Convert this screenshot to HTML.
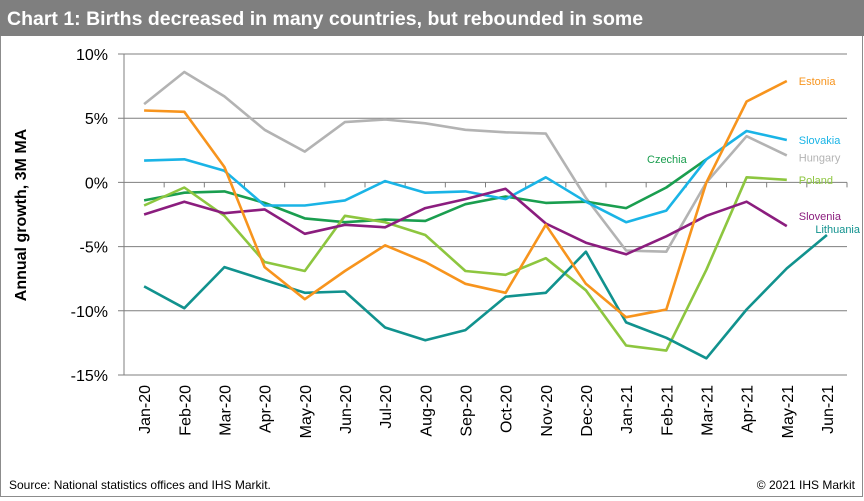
<!DOCTYPE html>
<html><head><meta charset="utf-8"><style>
body{margin:0;background:#fff;font-family:"Liberation Sans",Arial,sans-serif}
#wrap{position:relative;width:864px;height:501px;overflow:hidden}
</style></head><body>
<div id="wrap">
<svg id="svg" width="864" height="501" xmlns="http://www.w3.org/2000/svg" font-family="Liberation Sans, Arial, sans-serif">
<rect x="0.5" y="0.5" width="862" height="496" fill="#fff" stroke="#8c8c8c"/>
<rect x="0" y="0" width="864" height="36" fill="#7f7f7f"/>
<text x="7" y="25" font-size="19.5" font-weight="bold" fill="#fff">Chart 1: Births decreased in many countries, but rebounded in some</text>
<text transform="translate(26,215) rotate(-90)" text-anchor="middle" font-size="16" font-weight="bold" fill="#000">Annual growth, 3M MA</text>
<text x="9" y="489" font-size="12" fill="#000">Source: National statistics offices and IHS Markit.</text>
<text x="855" y="489" font-size="12" fill="#000" text-anchor="end">© 2021 IHS Markit</text>
<g id="grid"></g><g id="series"></g><g id="labels"></g>
</svg>
</div>
<script>
const categories=["Jan-20","Feb-20","Mar-20","Apr-20","May-20","Jun-20","Jul-20","Aug-20","Sep-20","Oct-20","Nov-20","Dec-20","Jan-21","Feb-21","Mar-21","Apr-21","May-21","Jun-21"];
const yTicks=[10,5,0,-5,-10,-15];
const yTickLabels=["10%","5%","0%","-5%","-10%","-15%"];
const estonia=[5.6,5.5,1.2,-6.6,-9.1,-6.9,-4.9,-6.2,-7.9,-8.6,-3.3,-7.9,-10.5,-9.9,0,6.3,7.9];
const hungary=[6.1,8.6,6.7,4.1,2.4,4.7,4.9,4.6,4.1,3.9,3.8,-1.2,-5.3,-5.4,0,3.6,2.1];
const slovakia=[1.7,1.8,0.9,-1.8,-1.8,-1.4,0.1,-0.8,-0.7,-1.3,0.4,-1.5,-3.1,-2.2,1.8,4.0,3.3];
const czechia=[-1.4,-0.8,-0.7,-1.6,-2.8,-3.1,-2.9,-3.0,-1.7,-1.1,-1.6,-1.5,-2.0,-0.4,1.8];
const poland=[-1.8,-0.4,-2.6,-6.2,-6.9,-2.6,-3.1,-4.1,-6.9,-7.2,-5.9,-8.4,-12.7,-13.1,-6.8,0.4,0.2];
const slovenia=[-2.5,-1.5,-2.4,-2.1,-4.0,-3.3,-3.5,-2.0,-1.3,-0.5,-3.2,-4.7,-5.6,-4.2,-2.6,-1.5,-3.4];
const lithuania=[-8.1,-9.8,-6.6,-7.6,-8.6,-8.5,-11.3,-12.3,-11.5,-8.9,-8.6,-5.4,-10.9,-12.1,-13.7,-9.9,-6.7,-4.1];
const NS="http://www.w3.org/2000/svg";
const L=124,R=847,T=54,B=375;
function xs(i){return L+(R-L)/categories.length*(i+0.5);}
function ys(v){return T+(10-v)/25*(B-T);}
function mk(tag,attrs,parent){const e=document.createElementNS(NS,tag);for(const k in attrs)e.setAttribute(k,attrs[k]);parent.appendChild(e);return e;}
const grid=document.getElementById('grid');
yTicks.forEach((v,i)=>{
 const ln=mk('line',{x1:L-6,x2:R,y1:ys(v),y2:ys(v),stroke:'#7f7f7f','stroke-width':1},grid);
 
 
 const t=mk('text',{x:L-16,y:ys(v)+6,'text-anchor':'end','font-size':16,fill:'#000'},grid);
 t.textContent=yTickLabels[i];
 
 
});
const ax=mk('line',{x1:L,x2:L,y1:T,y2:B,stroke:'#7f7f7f'},grid);


for(let i=0;i<=categories.length;i++){
 const x=L+(R-L)/categories.length*i;
 const tk=mk('line',{x1:x,x2:x,y1:ys(0),y2:ys(0)+5,stroke:'#7f7f7f'},grid);
 
 
}
categories.forEach((c,i)=>{
 const t=mk('text',{transform:`translate(${xs(i)+6},385) rotate(-90)`,'text-anchor':'end','font-size':16,fill:'#000'},grid);
 t.textContent=c;
 
 
});
const series=[
 ["hungary",hungary,"#b3b3b3","Hungary",0,2],
 ["czechia",czechia,"#1a9e4f","Czechia",0,0],
 ["slovakia",slovakia,"#1ab4e6","Slovakia",0,0],
 ["poland",poland,"#8dc63f","Poland",0,0],
 ["slovenia",slovenia,"#8b1d7e","Slovenia",0,-10],
 ["lithuania",lithuania,"#11928e","Lithuania",0,0],
 ["estonia",estonia,"#f7941d","Estonia",0,0]
];
const sg=document.getElementById('series'),lg=document.getElementById('labels');
series.forEach(s=>{
 const d=s[1].map((v,i)=>(i?'L':'M')+xs(i).toFixed(1)+','+ys(v).toFixed(1)).join('');
 const p=mk('path',{d:d,fill:'none',stroke:s[2],'stroke-width':2.6,'stroke-linejoin':'round'},sg);
 
 
 const n=s[1].length-1;
 let lx,ly,anchor='start';
 if(s[0]==='czechia'){lx=647;ly=163;}
 else if(s[0]==='lithuania'){lx=860;ly=ys(s[1][n])-2;anchor='end';}
 else {lx=xs(n)+12;ly=ys(s[1][n])+4+s[5];}
 const t=mk('text',{x:lx,y:ly,'font-size':11,fill:s[2],'text-anchor':anchor},lg);
 t.textContent=s[3];
 
 
});
</script>
</body></html>
